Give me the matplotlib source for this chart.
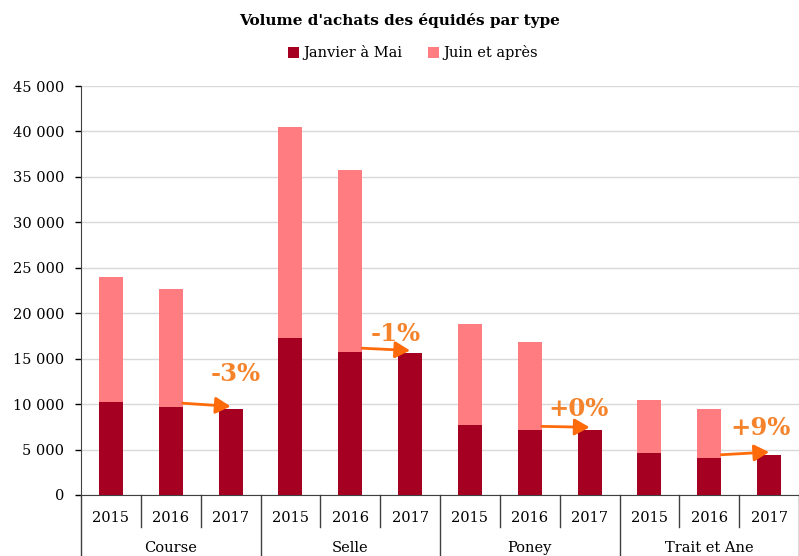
import matplotlib
matplotlib.use("Agg")
import matplotlib.pyplot as plt
from matplotlib.patches import FancyArrowPatch
from matplotlib.ticker import FuncFormatter
import matplotlib.transforms as mtransforms

plt.rcParams['font.family'] = ['DejaVu Serif']

groups = ["Course", "Selle", "Poney", "Trait et Ane"]
years = ["2015", "2016", "2017"]
jan_mai = [10200, 9700, 9450, 17250, 15750, 15600, 7700, 7150, 7150, 4650, 4030, 4420]
juin_apres = [13800, 13000, 0, 23250, 20050, 0, 11100, 9700, 0, 5850, 5420, 0]
evolutions = ["-3%", "-1%", "+0%", "+9%"]
y_ticks = [0, 5000, 10000, 15000, 20000, 25000, 30000, 35000, 40000, 45000]

c_dark = "#A50021"
c_pink = "#FF7C80"
c_orange_txt = "#F5832C"
c_orange_arr = "#FF6A0A"

W, H = 799, 556
fig = plt.figure(figsize=(W / 100, H / 100), dpi=100)
ax = fig.add_axes([81 / W, 1 - 495 / H, 718 / W, 409 / H])

x = list(range(len(jan_mai)))
bw = 0.4
ax.bar(x, jan_mai, width=bw, color=c_dark, zorder=3, label="Janvier à Mai")
ax.bar(x, juin_apres, width=bw, bottom=jan_mai, color=c_pink, zorder=3,
       label="Juin et après")

ax.set_xlim(-0.5, len(x) - 0.5)
ax.set_ylim(0, 45000)
ax.set_yticks(y_ticks)
ax.yaxis.set_major_formatter(FuncFormatter(lambda v, p: f"{int(v):,}".replace(",", " ")))
ax.grid(axis='y', color="#D9D9D9", lw=1, zorder=0)
ax.tick_params(axis='y', length=4, width=1, pad=8, labelsize=10.5, colors="#000000")
ax.tick_params(axis='x', length=0, labelbottom=False)
for s in ["top", "right"]:
    ax.spines[s].set_visible(False)
ax.spines["left"].set_color("#404040")
ax.spines["bottom"].set_color("#404040")

# category axis
trans = mtransforms.blended_transform_factory(ax.transData, ax.transAxes)
year_y = -23 / 409
group_y = -53 / 409
for i in x:
    ax.text(i, year_y, years[i % 3], transform=trans, ha='center', va='center',
            fontsize=10.5)
for k in range(len(x) + 1):
    xx = k - 0.5
    if k % 3 == 0:
        ax.plot([xx, xx], [0, -61 / 409], transform=trans, color="#404040",
                lw=1, clip_on=False)
    else:
        ax.plot([xx, xx], [0, -32 / 409], transform=trans, color="#404040",
                lw=1, clip_on=False)
for g, name in enumerate(groups):
    ax.text(3 * g + 1, group_y, name, transform=trans, ha='center', va='center',
            fontsize=10.5)

# evolution arrows and labels
lab_off = [(5, 35), (-14, 19), (-11, 21), (-9, 27)]
for g in range(4):
    i16 = 3 * g + 1
    i17 = 3 * g + 2
    arr = FancyArrowPatch((i16 + 0.2, jan_mai[i16] + 400), (i17 + 0.0, jan_mai[i17] + 300),
                          arrowstyle='-|>,head_length=0.9,head_width=0.5',
                          mutation_scale=10, lw=2.0, color=c_orange_arr, zorder=5,
                          shrinkA=0, shrinkB=0)
    ax.add_patch(arr)
    dx, dy = lab_off[g]
    ax.annotate(evolutions[g], (i17, jan_mai[i17]), xytext=(dx * 0.72, dy * 0.72),
                textcoords='offset points', ha='center', va='center',
                fontsize=17.5, fontweight='bold', color=c_orange_txt, zorder=6)

fig.text(400 / W, 1 - 20 / H, "Volume d'achats des équidés par type", ha='center',
         va='center', fontsize=11, fontweight='bold')
fig.legend(loc='center', bbox_to_anchor=(413 / W, 1 - 53 / H), ncol=2, frameon=False,
           fontsize=10.5, handlelength=0.7, handleheight=0.7, handletextpad=0.3,
           columnspacing=1.8)

fig.savefig("out.png", dpi=100)
